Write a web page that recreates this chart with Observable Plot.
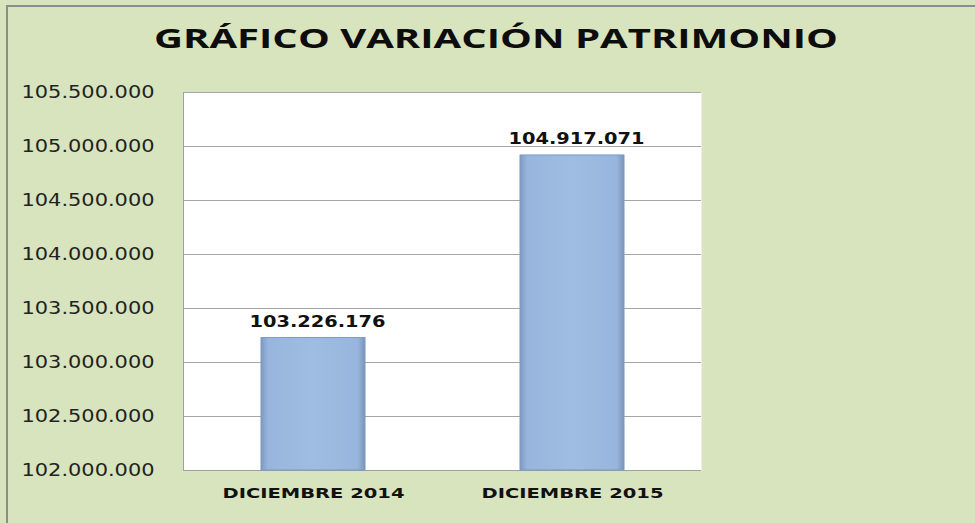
<!DOCTYPE html>
<html>
<head>
<meta charset="utf-8">
<script src="https://cdn.jsdelivr.net/npm/d3@7"></script>
<script src="https://cdn.jsdelivr.net/npm/@observablehq/plot@0.6"></script>
<style>
  html, body { margin: 0; padding: 0; background: #d8e4bd; width: 975px; height: 523px; overflow: hidden; }
  #wrap { position: relative; width: 975px; height: 523px; }
  #border { position: absolute; left: 6px; top: 5px; width: 1000px; height: 600px; border-left: 2px solid #8c8c8c; border-top: 2px solid #8c8c8c; box-sizing: border-box; }
  #chart { position: absolute; left: 0; top: 0; }
</style>
</head>
<body>
<div id="wrap"><div id="border"></div><div id="chart"></div></div>
<script>
const title = "GRÁFICO VARIACIÓN PATRIMONIO";
const categories = ["DICIEMBRE 2014", "DICIEMBRE 2015"];
const values = [103226176, 104917071];
const yMin = 102000000;
const yMax = 105500000;
const yTicks = [102000000, 102500000, 103000000, 103500000, 104000000, 104500000, 105000000, 105500000];

const data = categories.map((c, i) => ({category: c, value: values[i]}));
const locale = d3.formatLocale({decimal: ",", thousands: ".", grouping: [3], currency: ["$", ""]});
const fmt = locale.format(",d");

const plot = Plot.plot({
  width: 975,
  height: 523,
  marginTop: 92,
  marginLeft: 183,
  marginRight: 274,
  marginBottom: 53,
  style: {background: "transparent", overflow: "visible"},
  x: {domain: categories, paddingInner: 0.6, paddingOuter: 0.3, label: null},
  y: {domain: [yMin, yMax], label: null},
  marks: [
    Plot.frame({fill: "white", stroke: null}),
    Plot.gridY(yTicks, {stroke: "#a6a6a6", strokeOpacity: 1}),
    Plot.ruleY([yMin], {stroke: "#a0a0a0"}),
    Plot.frame({anchor: "left", stroke: "#a0a0a0"}),
    Plot.barY(data, {x: "category", y1: () => yMin, y2: "value", fill: "url(#barGrad)", stroke: "#7d98bf", strokeWidth: 1}),
    Plot.text(data, {x: "category", y: "value", text: d => fmt(d.value), dy: -16.5, dx: 4,
      fontSize: 16, fontWeight: "bold", fontFamily: "DejaVu Sans", fill: "#111"}),
    Plot.axisY(yTicks, {tickSize: 0, tickPadding: 29, tickFormat: fmt, fontSize: 17,
      fontFamily: "DejaVu Sans", fill: "#222", label: null}),
    Plot.axisX({tickSize: 0, tickPadding: 17.5, fontSize: 14, fontWeight: "bold",
      fontFamily: "DejaVu Sans", fill: "#111", label: null})
  ]
});

document.getElementById("chart").appendChild(plot);
const svg = d3.select(plot);

// gradients for bars
const defs = svg.insert("defs", ":first-child");
const g = defs.append("linearGradient").attr("id", "barGrad").attr("x1", "0").attr("x2", "1").attr("y1", "0").attr("y2", "0");
[["0%", "#7f9ac2"], ["7%", "#98b6dd"], ["50%", "#9fbce2"], ["93%", "#98b6dd"], ["100%", "#7a94ba"]]
  .forEach(([o, c]) => g.append("stop").attr("offset", o).attr("stop-color", c));

// stretch texts to match the reference widths
svg.selectAll('[aria-label="y-axis tick label"] text').attr("textLength", 133).attr("lengthAdjust", "spacingAndGlyphs");
svg.selectAll('[aria-label="x-axis tick label"] text').attr("textLength", 182).attr("lengthAdjust", "spacingAndGlyphs");
svg.selectAll('[aria-label="text"] text').attr("textLength", 136).attr("lengthAdjust", "spacingAndGlyphs");

// title
svg.append("text")
  .attr("x", 496).attr("y", 48)
  .attr("text-anchor", "middle")
  .attr("font-family", "Open Sans")
  .attr("font-weight", "bold")
  .attr("font-size", 26)
  .attr("fill", "#0d0d0d")
  .attr("textLength", 684)
  .attr("lengthAdjust", "spacingAndGlyphs")
  .text(title);
</script>
</body>
</html>
